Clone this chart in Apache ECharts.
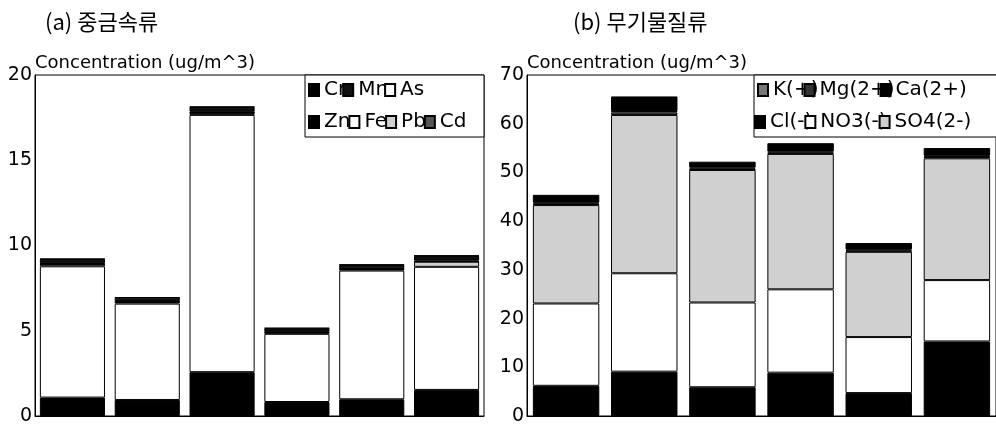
<!DOCTYPE html>
<html>
<head>
<meta charset="utf-8">
<script src="https://cdn.jsdelivr.net/npm/echarts@6/dist/echarts.min.js"></script>
<style>
html,body{margin:0;padding:0;background:#fff;}
#chart{width:996px;height:429px;}
</style>
</head>
<body>
<div id="chart"></div>
<script>
// ---- data ----
const categories = ['S1','S2','S3','S4','S5','S6'];
const yTicksLeft = [0, 5, 10, 15, 20];
const yTicksRight = [0, 10, 20, 30, 40, 50, 60, 70];

// (a) heavy metals, ug/m^3 (stack from bottom)
const zn = [1.08, 0.94, 2.57, 0.82, 0.98, 1.53];
const fe = [7.70, 5.65, 15.09, 4.00, 7.55, 7.22];
const pb = [0.12, 0.10, 0.12, 0.08, 0.08, 0.30];
const cd = [0.01, 0.01, 0.01, 0.01, 0.01, 0.01];
const cr = [0.05, 0.04, 0.05, 0.04, 0.04, 0.06];
const mn = [0.24, 0.20, 0.28, 0.19, 0.20, 0.27];
const as = [0.02, 0.02, 0.02, 0.02, 0.02, 0.02];

// (b) inorganic ions, ug/m^3 (stack from bottom)
const cl  = [6.2, 9.1, 5.9, 8.9, 4.7, 15.3];
const no3 = [16.9, 20.2, 17.4, 17.1, 11.5, 12.6];
const so4 = [20.2, 32.5, 27.2, 27.8, 17.5, 25.0];
const kIon = [0.3, 0.5, 0.3, 0.3, 0.3, 0.3];
const mg  = [0.2, 0.3, 0.2, 0.2, 0.2, 0.2];
const ca  = [1.6, 3.0, 1.2, 1.7, 1.3, 1.6];

const FONT = 'DejaVu Sans';
const chart = echarts.init(document.getElementById('chart'), null, {renderer: 'canvas'});

function bar(name, data, color, axisIdx, stack, width) {
  return {
    name, type: 'bar', data, stack,
    xAxisIndex: axisIdx, yAxisIndex: axisIdx,
    barWidth: width,
    itemStyle: {color, borderColor: '#000', borderWidth: 1},
    emphasis: {disabled: true},
    animation: false
  };
}

function legend(names, left, top, gap) {
  return {
    data: names, left, top, padding: 0,
    icon: 'rect', itemWidth: 10, itemHeight: 12, itemGap: gap,
    selectedMode: false,
    textStyle: {fontFamily: FONT, fontSize: 20, color: '#000'}
  };
}

function yAxis(idx, max, interval) {
  return {
    type: 'value', gridIndex: idx, min: 0, max, interval,
    name: 'Concentration (ug/m^3)', nameLocation: 'end', nameGap: 3,
    nameMoveOverlap: false,
    nameTextStyle: {fontFamily: FONT, fontSize: 18, color: '#000', align: 'left', verticalAlign: 'bottom'},
    axisLine: {show: true, lineStyle: {color: '#000', width: 1}},
    axisTick: {show: false},
    splitLine: {show: false},
    axisLabel: {fontFamily: FONT, fontSize: 19, color: '#000', margin: 3}
  };
}

function xAxis(idx) {
  return {
    type: 'category', gridIndex: idx, data: categories,
    axisLine: {show: true, lineStyle: {color: '#000', width: 1}},
    axisTick: {show: false}, axisLabel: {show: false}
  };
}

const option = {
  backgroundColor: '#fff',
  animation: false,
  title: [
    {text: '(a) 중금속류', left: 40, top: 6, textStyle: {fontFamily: 'Noto Sans CJK KR', fontSize: 22, fontWeight: 'normal', color: '#000'}},
    {text: '(b) 무기물질류', left: 568, top: 6, textStyle: {fontFamily: 'Noto Sans CJK KR', fontSize: 22, fontWeight: 'normal', color: '#000'}}
  ],
  grid: [
    {left: 35, top: 75, width: 449, height: 341, show: true, borderColor: '#000', borderWidth: 1, backgroundColor: 'transparent'},
    {left: 527, top: 75, width: 480, height: 341, show: true, borderColor: '#000', borderWidth: 1, backgroundColor: 'transparent'}
  ],
  xAxis: [xAxis(0), xAxis(1)],
  yAxis: [yAxis(0, 20, 5), yAxis(1, 70, 10)],
  legend: [
    legend(['Cr', 'Mn', 'As'], 308, 80, -4),
    legend(['Zn', 'Fe', 'Pb', 'Cd'], 308, 112, -2),
    legend(['K(+)', 'Mg(2+)', 'Ca(2+)'], 757, 80, -15),
    legend(['Cl(-)', 'NO3(-)', 'SO4(2-)'], 754, 112, -8)
  ],
  graphic: [
    {type: 'rect', z: 3, shape: {x: 305, y: 75, width: 179, height: 62}, style: {fill: '#fff', stroke: '#000', lineWidth: 1}},
    {type: 'rect', z: 3, shape: {x: 754, y: 75, width: 260, height: 62}, style: {fill: '#fff', stroke: '#000', lineWidth: 1}}
  ],
  series: [
    bar('Zn', zn, '#000', 0, 'a', '87%'),
    bar('Fe', fe, '#fff', 0, 'a', '87%'),
    bar('Pb', pb, '#d0d0d0', 0, 'a', '87%'),
    bar('Cd', cd, '#555', 0, 'a', '87%'),
    bar('Cr', cr, '#000', 0, 'a', '87%'),
    bar('Mn', mn, '#111', 0, 'a', '87%'),
    bar('As', as, '#fff', 0, 'a', '87%'),
    bar('Cl(-)', cl, '#000', 1, 'b', '85%'),
    bar('NO3(-)', no3, '#fff', 1, 'b', '85%'),
    bar('SO4(2-)', so4, '#d0d0d0', 1, 'b', '85%'),
    bar('K(+)', kIon, '#777', 1, 'b', '85%'),
    bar('Mg(2+)', mg, '#333', 1, 'b', '85%'),
    bar('Ca(2+)', ca, '#000', 1, 'b', '85%')
  ]
};
chart.setOption(option);
</script>
</body>
</html>
